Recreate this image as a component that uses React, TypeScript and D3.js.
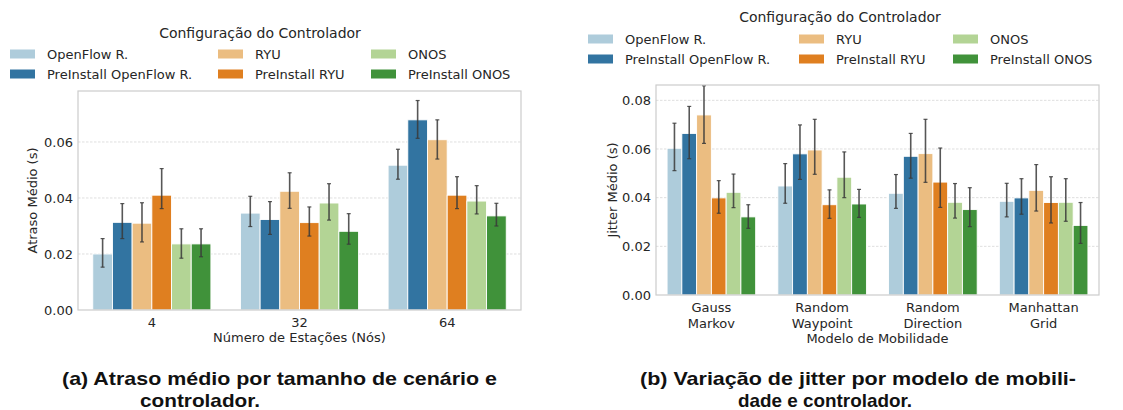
import React from "react";
import * as d3 from "d3";

const series = [
  "OpenFlow R.",
  "PreInstall OpenFlow R.",
  "RYU",
  "PreInstall RYU",
  "ONOS",
  "PreInstall ONOS",
];
const colors = ["#aeccdb", "#3274a1", "#ebbd81", "#df7f20", "#b3d495", "#40923a"];

// Left chart: mean delay by number of stations
const stations = ["4", "32", "64"];
const delayMean = [
  [0.02, 0.0313, 0.031, 0.041, 0.0236, 0.0236],
  [0.0346, 0.0323, 0.0424, 0.0312, 0.0382, 0.0281],
  [0.0517, 0.0679, 0.0608, 0.041, 0.0389, 0.0336],
];
const delayLow = [
  [0.0153, 0.0255, 0.0243, 0.0362, 0.0185, 0.019],
  [0.0298, 0.027, 0.0363, 0.0264, 0.0321, 0.0235],
  [0.0467, 0.0613, 0.0539, 0.0362, 0.0343, 0.03],
];
const delayHigh = [
  [0.0255, 0.038, 0.0383, 0.0505, 0.029, 0.029],
  [0.0406, 0.0387, 0.049, 0.0368, 0.0451, 0.0344],
  [0.0574, 0.0748, 0.0679, 0.0476, 0.0444, 0.0381],
];
const delayTicks = [0, 0.02, 0.04, 0.06];

// Right chart: mean jitter by mobility model
const models = [
  ["Gauss", "Markov"],
  ["Random", "Waypoint"],
  ["Random", "Direction"],
  ["Manhattan", "Grid"],
];
const jitterMean = [
  [0.0603, 0.0664, 0.074, 0.0399, 0.0422, 0.0321],
  [0.0448, 0.058, 0.0596, 0.0371, 0.0484, 0.0374],
  [0.0418, 0.057, 0.0581, 0.0464, 0.0381, 0.0351],
  [0.0385, 0.0399, 0.043, 0.038, 0.0381, 0.0286],
];
const jitterLow = [
  [0.0511, 0.056, 0.0623, 0.0336, 0.0359, 0.0274],
  [0.0377, 0.0475, 0.0496, 0.0315, 0.04, 0.0319],
  [0.0356, 0.048, 0.0463, 0.036, 0.0316, 0.0281],
  [0.0321, 0.0332, 0.0345, 0.0296, 0.0303, 0.0212],
];
const jitterHigh = [
  [0.0706, 0.0775, 0.086, 0.047, 0.0497, 0.0371],
  [0.054, 0.0699, 0.0722, 0.0432, 0.0588, 0.0434],
  [0.0495, 0.0664, 0.0722, 0.0604, 0.0458, 0.0441],
  [0.0459, 0.0478, 0.0536, 0.0486, 0.0478, 0.038],
];
const jitterTicks = [0, 0.02, 0.04, 0.06, 0.08];

const FONT = "DejaVu Sans, sans-serif";
const TXT = "#262626";

type PanelProps = {
  x0: number; x1: number; y0: number; y1: number; yMax: number;
  cats: string[][]; mean: number[][]; low: number[][]; high: number[][];
  ticks: number[]; yLabel: string; xLabel: string; yLabelX: number; xLabelY: number;
};

function Panel(p: PanelProps) {
  const x = d3.scaleBand<number>().domain(p.cats.map((_, i) => i)).range([p.x0, p.x1]).padding(0);
  const y = d3.scaleLinear().domain([0, p.yMax]).range([p.y1, p.y0]);
  const bw = x.bandwidth();
  const inner = d3.scaleBand<number>().domain(series.map((_, i) => i)).range([bw * 0.1, bw * 0.9]).padding(0);
  const fmt = d3.format(".2f");
  return (
    <g>
      {p.ticks.filter((t) => t > 0).map((t) => (
        <line key={"g" + t} x1={p.x0} x2={p.x1} y1={y(t)} y2={y(t)} stroke="#d6d6d6" strokeWidth={0.8} strokeDasharray="2.5,1.5" />
      ))}
      {p.mean.map((row, ci) =>
        row.map((v, si) => {
          const bx = (x(ci) as number) + (inner(si) as number);
          return (
            <rect key={`b${ci}-${si}`} x={bx} y={y(v)} width={inner.bandwidth()} height={y(0) - y(v)} fill={colors[si]} stroke="#ffffff" strokeWidth={0.9} />
          );
        })
      )}
      {p.mean.map((row, ci) =>
        row.map((_, si) => {
          const cx = (x(ci) as number) + (inner(si) as number) + inner.bandwidth() / 2;
          const lo = y(p.low[ci][si]);
          const hi = y(p.high[ci][si]);
          return (
            <g key={`e${ci}-${si}`} stroke="#3a3a3a" strokeOpacity={0.85}>
              <line x1={cx} x2={cx} y1={lo} y2={hi} strokeWidth={1.6} />
              <line x1={cx - 2} x2={cx + 2} y1={lo} y2={lo} strokeWidth={1.2} />
              <line x1={cx - 2} x2={cx + 2} y1={hi} y2={hi} strokeWidth={1.2} />
            </g>
          );
        })
      )}
      <rect x={p.x0} y={p.y0} width={p.x1 - p.x0} height={p.y1 - p.y0} fill="none" stroke="#cccccc" strokeWidth={1.2} />
      {p.ticks.map((t) => (
        <text key={"t" + t} x={p.x0 - 5} y={y(t)} dy="0.35em" textAnchor="end" fontSize={13} fill={TXT} fontFamily={FONT}>
          {fmt(t)}
        </text>
      ))}
      {p.cats.map((c, ci) => (
        <text key={"c" + ci} x={(x(ci) as number) + bw / 2} y={p.y1 + 12} dy="0.35em" textAnchor="middle" fontSize={13} fill={TXT} fontFamily={FONT}>
          {c.map((line, li) => (
            <tspan key={li} x={(x(ci) as number) + bw / 2} dy={li === 0 ? "0.35em" : 16}>
              {line}
            </tspan>
          ))}
        </text>
      ))}
      <text x={(p.x0 + p.x1) / 2} y={p.xLabelY} dy="0.35em" textAnchor="middle" fontSize={13} fill={TXT} fontFamily={FONT}>
        {p.xLabel}
      </text>
      <text transform={`translate(${p.yLabelX},${(p.y0 + p.y1) / 2}) rotate(-90)`} dy="0.35em" textAnchor="middle" fontSize={13} fill={TXT} fontFamily={FONT}>
        {p.yLabel}
      </text>
    </g>
  );
}

function Legend({ cx, titleY, rowY, cols }: { cx: number; titleY: number; rowY: number[]; cols: number[] }) {
  return (
    <g fontFamily={FONT} fontSize={13} fill={TXT}>
      <text x={cx} y={titleY} dy="0.35em" textAnchor="middle" fontSize={14}>Configuração do Controlador</text>
      {series.map((s, i) => {
        const col = Math.floor(i / 2);
        const row = i % 2;
        return (
          <g key={s}>
            <rect x={cols[col]} y={rowY[row] - 4.5} width={25} height={9} fill={colors[i]} />
            <text x={cols[col] + 37} y={rowY[row]} dy="0.35em">{s}</text>
          </g>
        );
      })}
    </g>
  );
}

export default function App() {
  const capFont = "Liberation Sans Narrow, Liberation Sans, Arial, sans-serif";
  return (
    <svg width={1123} height={410} style={{ position: "absolute", left: 0, top: 0, background: "#fff" }}>
      <rect width={1123} height={410} fill="#fff" />
      <Legend cx={260} titleY={33} rowY={[54, 74]} cols={[10, 218, 371]} />
      <Panel x0={78} x1={521} y0={91} y1={310} yMax={0.0782} cats={stations.map((s) => [s])}
        mean={delayMean} low={delayLow} high={delayHigh} ticks={delayTicks}
        yLabel="Atraso Médio (s)" xLabel="Número de Estações (Nós)" yLabelX={32} xLabelY={337} />
      <Legend cx={840} titleY={17} rowY={[39, 59]} cols={[588, 799, 953]} />
      <Panel x0={656} x1={1099} y0={85} y1={295} yMax={0.0863} cats={models}
        mean={jitterMean} low={jitterLow} high={jitterHigh} ticks={jitterTicks}
        yLabel="Jitter Médio (s)" xLabel="Modelo de Mobilidade" yLabelX={612} xLabelY={338} />
      <g fontFamily={capFont} fontWeight="bold" fontSize={19} fill="#111">
        <text x={62} y={385} textLength={435} lengthAdjust="spacingAndGlyphs">(a) Atraso médio por tamanho de cenário e</text>
        <text x={140} y={407} textLength={120} lengthAdjust="spacingAndGlyphs">controlador.</text>
        <text x={640} y={385} textLength={436} lengthAdjust="spacingAndGlyphs">(b) Variação de jitter por modelo de mobili-</text>
        <text x={738} y={407} textLength={174} lengthAdjust="spacingAndGlyphs">dade e controlador.</text>
      </g>
    </svg>
  );
}
